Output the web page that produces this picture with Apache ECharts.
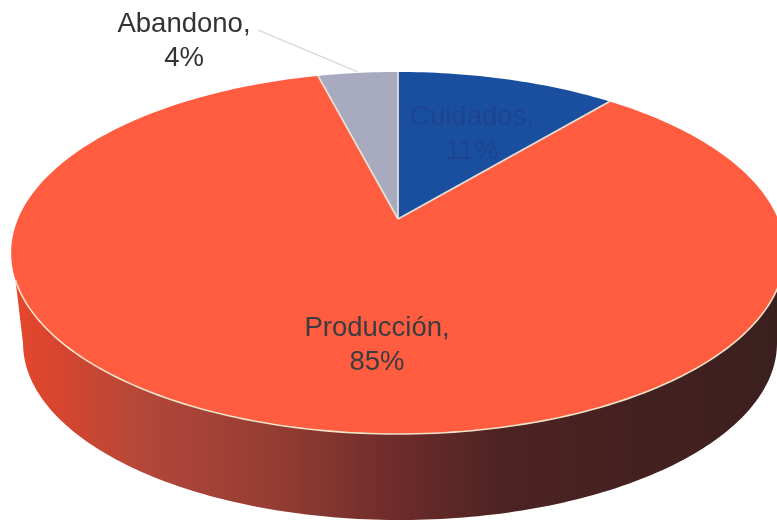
<!DOCTYPE html>
<html><head><meta charset="utf-8">
<style>html,body{margin:0;padding:0;background:#fff}#c{width:777px;height:529px}</style>
<script src="https://cdn.jsdelivr.net/npm/echarts@6/dist/echarts.min.js"></script>
</head><body><div id="c"></div>
<script>
const categories = ['Cuidados', 'Producción', 'Abandono'];
const percents = [11, 85, 4];
const sliceColors = ['#1a4f9f', '#ff5c40', '#a8aabf'];
const labelColors = ['#1d4490', '#3c3c40', '#333333'];
const labelAnchors = [[472, 134], [377, 345], [184, 41]];

// Perspective disc: maps a rim angle to the screen
const vx = 398, vy = 219, B = 380, A = 133.5, K = 0.1878;
function disc(theta, r) {
  const u = r * Math.sin(theta), v = r * Math.cos(theta), w = 1 + K * v;
  return [vx + B * u / w, (vy - A * v) / w];
}
// Lower rim of the disc's wall
const wall = {cx: 400, cy: 343, rx: 377, ry: 177};
const total = percents.reduce((a, b) => a + b, 0);
function startAngle(i) {
  let s = 0;
  for (let k = 0; k < i; k++) s += percents[k];
  return s / total * 2 * Math.PI;
}
function rimPoints(a0, a1) {
  const pts = [], n = Math.max(2, Math.ceil((a1 - a0) / 0.02));
  for (let i = 0; i <= n; i++) pts.push(disc(a0 + (a1 - a0) * i / n, 1));
  return pts;
}
function renderSlice(params, api) {
  const i = params.dataIndex, val = api.value(1);
  const a0 = startAngle(i), a1 = a0 + val / total * 2 * Math.PI;
  const rim = rimPoints(a0, a1);
  return {
    type: 'polygon',
    shape: {points: [[vx, vy]].concat(rim)},
    style: {fill: sliceColors[i]}
  };
}
function renderDivider(params, api) {
  const i = params.dataIndex;
  const p = disc(startAngle(i), 1);
  return {
    type: 'line',
    shape: {x1: vx, y1: vy, x2: p[0], y2: p[1]},
    style: {stroke: '#e6e0d6', lineWidth: 1.8}
  };
}
function renderWall(params, api) {
  const bottom = [];
  for (let t = -Math.PI / 2; t <= Math.PI / 2 + 1e-6; t += 0.02) {
    bottom.push([wall.cx + wall.rx * Math.sin(t), wall.cy + wall.ry * Math.cos(t)]);
  }
  const a = startAngle(1), b = a + api.value(1) / total * 2 * Math.PI;
  const frontLine = rimPoints(a, b).filter(p => p[1] > 280);
  return {type: 'group', children: [{
    type: 'polygon',
    shape: {points: frontLine.concat(bottom)},
    style: {fill: {type: 'linear', global: true, x: 10, y: 0, x2: 777, y2: 0, colorStops: [
      {offset: 0, color: '#e8472d'}, {offset: 0.06, color: '#d8452f'},
      {offset: 0.17, color: '#b4473a'}, {offset: 0.36, color: '#923b33'},
      {offset: 0.5, color: '#6e2c2a'}, {offset: 0.65, color: '#4c2322'},
      {offset: 1, color: '#3b1f1f'}]}}
  }, {
    type: 'polyline', z2: 5,
    shape: {points: frontLine},
    style: {fill: null, stroke: '#efe3c8', lineWidth: 1.6}
  }]};
}
function renderLabel(params, api) {
  const i = params.dataIndex;
  const c = labelAnchors[i];
  return {type: 'text', x: c[0], y: c[1], style: {
    text: categories[i] + ',\n' + api.value(1) + '%',
    fill: labelColors[i], align: 'center', verticalAlign: 'middle',
    font: '27.5px "Liberation Sans", Arial, sans-serif', lineHeight: 34
  }};
}
const rows = categories.map((c, i) => [c, percents[i]]);
const chart = echarts.init(document.getElementById('c'), null, {renderer: 'canvas'});
chart.setOption({
  backgroundColor: '#ffffff',
  animation: false,
  series: [
    {type: 'custom', coordinateSystem: 'none', data: rows, renderItem: renderSlice, z: 2, silent: true},
    {type: 'custom', coordinateSystem: 'none', data: [rows[1]], renderItem: renderWall, z: 3, silent: true},
    {type: 'custom', coordinateSystem: 'none', data: rows, renderItem: renderDivider, z: 4, silent: true},
    {type: 'custom', coordinateSystem: 'none', data: rows, renderItem: renderLabel, z: 6, silent: true}
  ],
  graphic: [{type: 'line', shape: {x1: 258, y1: 30, x2: 358, y2: 72}, style: {stroke: '#dcdfe2', lineWidth: 1.4}, z: 5}]
});
</script></body></html>
